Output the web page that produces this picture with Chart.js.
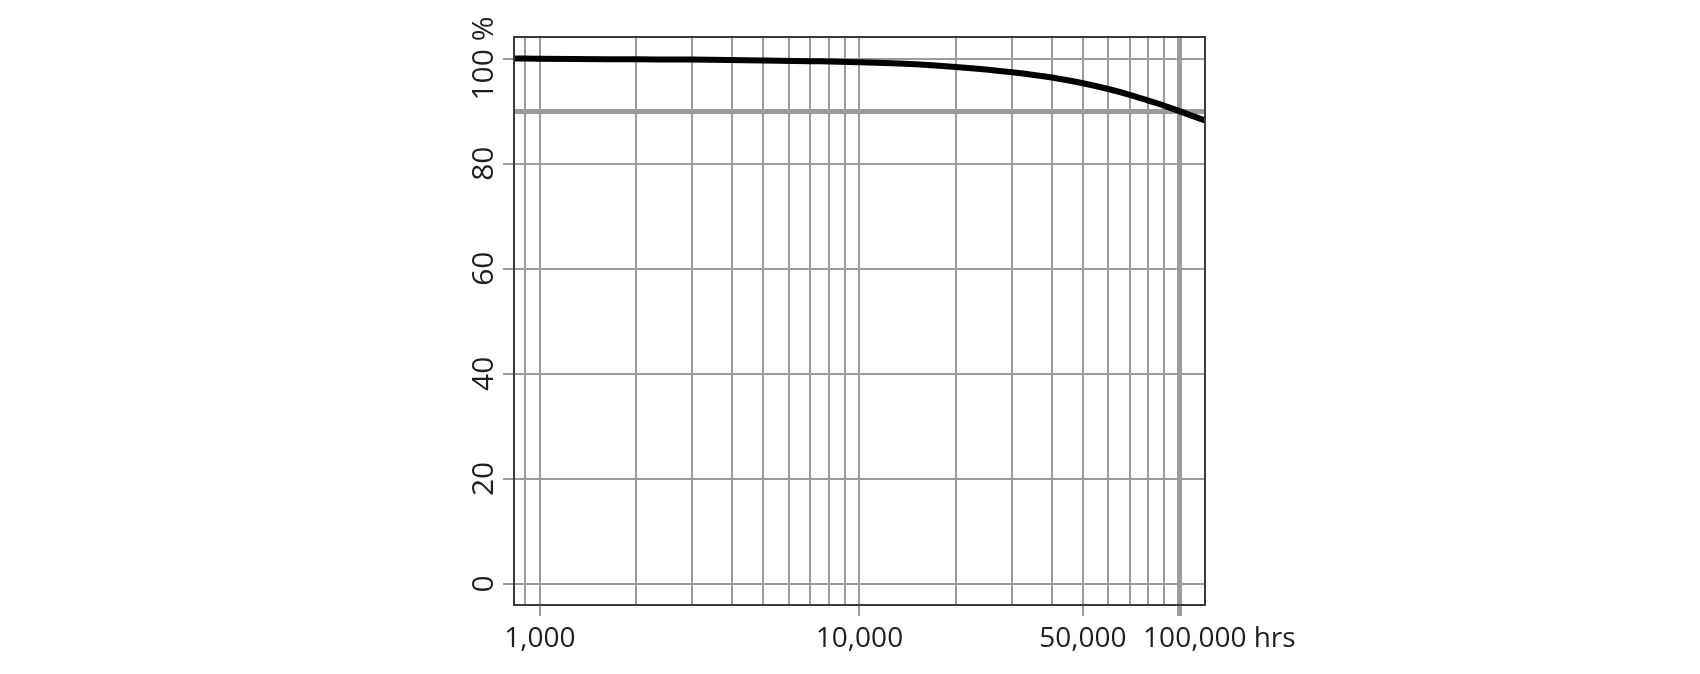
<!DOCTYPE html>
<html>
<head>
<meta charset="utf-8">
<script src="https://cdn.jsdelivr.net/npm/chart.js@4/dist/chart.umd.min.js"></script>
<style>
  html, body { margin: 0; padding: 0; background: #fff; }
  #wrap { width: 1700px; height: 674px; position: relative; }
</style>
</head>
<body>
<div id="wrap"><canvas id="lifeChart"></canvas></div>
<script>
// operating hours vs. remaining output (%)
const hours = [830, 1000, 2000, 3000, 5000, 7000, 10000, 15000, 20000, 30000, 40000, 50000, 60000, 70000, 80000, 90000, 100000, 120500];
const outputPct = [100, 99.95, 99.85, 99.8, 99.65, 99.5, 99.3, 98.9, 98.4, 97.4, 96.4, 95.3, 94.2, 93.1, 92.0, 91.0, 90.0, 88.2];

// grid lines
const xGridValues = [900, 1000, 2000, 3000, 4000, 5000, 6000, 7000, 8000, 9000,
  10000, 20000, 30000, 40000, 50000, 60000, 70000, 80000, 90000, 100000];
const yGridValues = [0, 20, 40, 60, 80, 90, 100];

// labelled ticks
const xTickValues = [1000, 10000, 50000, 100000];
const xTickLabels = ["1,000", "10,000", "50,000", "100,000 hrs"];
const yTickValues = [0, 20, 40, 60, 80, 100];
const yTickLabels = ["0", "20", "40", "60", "80", "100 %"];

// highlighted reference lines
const xRefValue = 100000;
const yRefValue = 90;

const GRID = "#9c9c9c";
const TEXT = "#1e1e1e";
const X_FONT = "28px 'Open Sans', 'Noto Sans', sans-serif";
const Y_FONT = "30px 'Open Sans', 'Noto Sans', sans-serif";

const labelsPlugin = {
  id: "labels",
  afterDraw: (chart) => {
    const { ctx, chartArea } = chart;
    const xs = chart.scales.x;
    const ys = chart.scales.y;
    ctx.save();

    // frame
    ctx.strokeStyle = "#3a3a3a";
    ctx.lineWidth = 2;
    ctx.strokeRect(chartArea.left, chartArea.top,
      chartArea.right - chartArea.left, chartArea.bottom - chartArea.top);

    ctx.fillStyle = TEXT;
    ctx.textBaseline = "alphabetic";

    // x labels
    ctx.font = X_FONT;
    xTickValues.forEach((v, i) => {
      const px = xs.getPixelForValue(v);
      if (i === xTickValues.length - 1) {
        ctx.textAlign = "left";
        ctx.fillText(xTickLabels[i], px - 36, chartArea.bottom + 42);
      } else {
        ctx.textAlign = "center";
        ctx.fillText(xTickLabels[i], px, chartArea.bottom + 42);
      }
    });

    // y labels, rotated
    ctx.font = Y_FONT;
    yTickValues.forEach((v, i) => {
      const py = ys.getPixelForValue(v);
      ctx.save();
      ctx.translate(chartArea.left - 21, py);
      ctx.rotate(-Math.PI / 2);
      ctx.textAlign = "center";
      ctx.fillText(yTickLabels[i], 0, 0);
      ctx.restore();
    });

    ctx.restore();
  },
};

new Chart(document.getElementById("lifeChart"), {
  type: "line",
  data: {
    datasets: [
      {
        data: hours.map((h, i) => ({ x: h, y: outputPct[i] })),
        borderColor: "#000",
        borderWidth: 6,
        borderCapStyle: "round",
        pointRadius: 0,
        cubicInterpolationMode: "monotone",
        fill: false,
      },
    ],
  },
  options: {
    responsive: true,
    maintainAspectRatio: false,
    animation: false,
    layout: { padding: { left: 503, right: 495, top: 37, bottom: 58 } },
    plugins: { legend: { display: false }, tooltip: { enabled: false } },
    scales: {
      x: {
        type: "logarithmic",
        min: 830,
        max: 120500,
        afterBuildTicks: (scale) => {
          scale.ticks = xGridValues.map((v) => ({ value: v }));
        },
        ticks: { display: false },
        border: { display: false },
        grid: {
          color: GRID,
          lineWidth: (c) => (c.tick && c.tick.value === xRefValue ? 5 : 2),
          tickLength: 11,
          tickColor: (c) =>
            c.tick && xTickValues.includes(c.tick.value) ? GRID : "rgba(0,0,0,0)",
        },
      },
      y: {
        min: -4,
        max: 104.1,
        afterBuildTicks: (scale) => {
          scale.ticks = yGridValues.map((v) => ({ value: v }));
        },
        ticks: { display: false },
        border: { display: false },
        grid: {
          color: GRID,
          lineWidth: (c) => (c.tick && c.tick.value === yRefValue ? 5 : 2),
          tickLength: 11,
          tickColor: (c) =>
            c.tick && yTickValues.includes(c.tick.value) ? GRID : "rgba(0,0,0,0)",
        },
      },
    },
  },
  plugins: [labelsPlugin],
});
</script>
</body>
</html>
